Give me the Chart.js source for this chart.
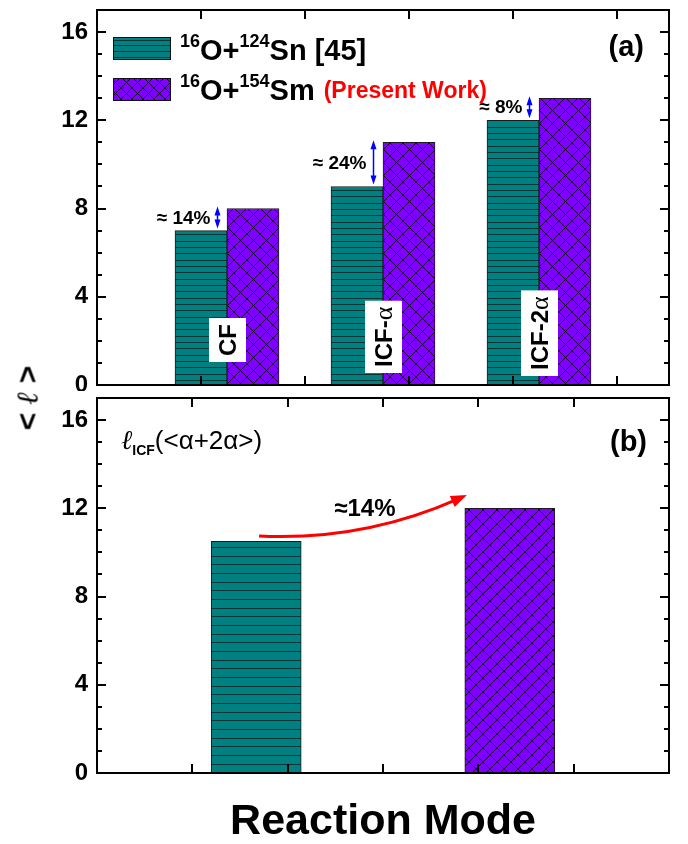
<!DOCTYPE html>
<html>
<head>
<meta charset="utf-8">
<script src="https://cdn.jsdelivr.net/npm/chart.js@4.4.1/dist/chart.umd.min.js"></script>
<style>
  html, body { margin:0; padding:0; background:#fff; }
  #wrap { position:relative; width:688px; height:844px; overflow:hidden; }
  #boxA { position:absolute; left:0; top:0; width:688px; height:391px; }
  #boxB { position:absolute; left:0; top:391px; width:688px; height:453px; }
  #ytitle { position:absolute; left:27px; top:398px; transform:translate(-50%,-50%) rotate(-90deg);
    font:bold 30px "Liberation Sans", Arial, sans-serif; white-space:nowrap; }
  #ytitle span { font-family:"DejaVu Serif", serif; font-style:italic; font-weight:bold; }
</style>
</head>
<body>
<div id="wrap">
  <div id="boxA"><canvas id="chartA"></canvas></div>
  <div id="boxB"><canvas id="chartB"></canvas></div>
  <div id="ytitle">&lt; <span>ℓ</span> &gt;</div>
</div>
<script>
// panel (a): <l> per reaction mode
const modes = ["CF", "ICF-", "ICF-2"];          // alpha is appended in a serif font
const modeX = [1.25, 2.75, 4.25];
const snX = [1, 2.5, 4];
const smX = [1.5, 3, 4.5];
const snL = [7, 9, 12];        // 16O+124Sn [45]
const smL = [8, 11, 13];       // 16O+154Sm (present work)
const diffText = ["≈ 14%", "≈ 24%", "≈ 8%"];

// panel (b): l_ICF(<a+2a>)
const icfX = [1.67, 4.33];
const icfL = [10.5, 12];
const icfDiff = "≈14%";

const yMajor = [0, 4, 8, 12, 16];

const FONT = '"Liberation Sans", Arial, Helvetica, sans-serif';
const SERIF = '"Liberation Serif", "Times New Roman", serif';
Chart.defaults.font.family = FONT;
Chart.defaults.color = "#000";

function stripes(tile, lines, bg, fg) {
  const c = document.createElement("canvas");
  c.width = 8; c.height = tile;
  const g = c.getContext("2d");
  g.fillStyle = bg; g.fillRect(0, 0, 8, tile);
  g.fillStyle = fg;
  for (let i = 0; i < lines; i++) g.fillRect(0, Math.round(i * tile / lines), 8, 1);
  return g.createPattern(c, "repeat");
}

function hatch(size, bg, fg) {
  const c = document.createElement("canvas");
  c.width = size; c.height = size;
  const g = c.getContext("2d");
  g.fillStyle = bg; g.fillRect(0, 0, size, size);
  g.strokeStyle = fg; g.lineWidth = 1;
  g.beginPath();
  g.moveTo(-1, -1); g.lineTo(size + 1, size + 1);
  g.moveTo(size + 1, -1); g.lineTo(-1, size + 1);
  g.stroke();
  return g.createPattern(c, "repeat");
}

const TEAL = "#008080", TEAL_LINE = "#0a3434";
const PURPLE = "#8000ff", PURPLE_LINE = "#1a0030";

// draw text pieces one after another (for super/subscripts)
function runs(ctx, x, y, parts) {
  parts.forEach(p => {
    ctx.font = p.f;
    ctx.fillStyle = p.c || "#000";
    ctx.fillText(p.t, x, y - (p.up || 0));
    x += ctx.measureText(p.t).width;
  });
  return x;
}

function head(ctx, x, y, dx, dy, len, half) {
  const n = Math.hypot(dx, dy); dx /= n; dy /= n;
  ctx.beginPath();
  ctx.moveTo(x, y);
  ctx.lineTo(x - dx * len - dy * half, y - dy * len + dx * half);
  ctx.lineTo(x - dx * len + dy * half, y - dy * len - dx * half);
  ctx.closePath();
  ctx.fill();
}

const framePlugin = {
  id: "frame",
  afterDraw(chart) {
    const { ctx, chartArea: a, scales: { x, y } } = chart;
    ctx.save();
    ctx.strokeStyle = "#000";
    ctx.lineWidth = 2;
    ctx.beginPath();
    for (let v = Math.floor(y.min) + 1; v < y.max; v++) {
      const py = Math.round(y.getPixelForValue(v));
      const len = yMajor.includes(v) ? 9 : 5;
      ctx.moveTo(a.left, py); ctx.lineTo(a.left + len, py);
      ctx.moveTo(a.right, py); ctx.lineTo(a.right - len, py);
    }
    for (let v = Math.floor(x.min) + 1; v < x.max; v++) {
      const px = Math.round(x.getPixelForValue(v));
      ctx.moveTo(px, a.top); ctx.lineTo(px, a.top + 9);
      ctx.moveTo(px, a.bottom); ctx.lineTo(px, a.bottom - 9);
    }
    ctx.stroke();
    ctx.strokeRect(a.left, a.top, a.right - a.left, a.bottom - a.top);
    ctx.restore();
  }
};

const annotA = {
  id: "annotA",
  afterDatasetsDraw(chart) {
    const { ctx, chartArea: a, scales: { x, y } } = chart;
    ctx.save();

    // blue difference arrows and percent labels
    ctx.strokeStyle = "#0000ff"; ctx.fillStyle = "#0000ff"; ctx.lineWidth = 1.5;
    modes.forEach((m, i) => {
      const ax = Math.round(x.getPixelForValue(snX[i] + 0.15)) + 0.5;
      const y1 = y.getPixelForValue(smL[i]) - 2, y2 = y.getPixelForValue(snL[i]) - 2;
      ctx.beginPath(); ctx.moveTo(ax, y1 + 6); ctx.lineTo(ax, y2 - 6); ctx.stroke();
      ctx.fillStyle = "#0000ff";
      head(ctx, ax, y1, 0, -1, 9, 3);
      head(ctx, ax, y2, 0, 1, 9, 3);
      ctx.fillStyle = "#000";
      ctx.font = "bold 19px " + FONT;
      ctx.textAlign = "right"; ctx.textBaseline = "middle";
      ctx.fillText(diffText[i], ax - 7, (y1 + y2) / 2 + 1);
    });

    // rotated mode labels in white boxes
    const lift = [23, 12, 9];
    ctx.textAlign = "left"; ctx.textBaseline = "alphabetic";
    modes.forEach((m, i) => {
      const parts = [{ t: m, f: "bold 24px " + FONT }];
      if (i > 0) parts.push({ t: "α", f: "26px " + SERIF });
      let w = 0;
      parts.forEach(p => { ctx.font = p.f; w += ctx.measureText(p.t).width; });
      const cx = x.getPixelForValue(modeX[i]);
      const bottom = a.bottom - lift[i];
      const h = w + 12;
      ctx.fillStyle = "#fff";
      ctx.fillRect(cx - 18, bottom - h, 37, h);
      ctx.save();
      ctx.translate(cx, bottom - 6);
      ctx.rotate(-Math.PI / 2);
      runs(ctx, 0, 9, parts);
      ctx.restore();
    });

    // legend
    const ds = chart.data.datasets;
    const sw = [[113, 37], [113, 78]];
    sw.forEach((p, i) => {
      ctx.fillStyle = ds[i].legendFill;
      ctx.fillRect(p[0], p[1], 57, 22);
      ctx.strokeStyle = "#111"; ctx.lineWidth = 1;
      ctx.strokeRect(p[0] + 0.5, p[1] + 0.5, 57, 22);
    });
    const main = "bold 29px " + FONT, sup = "bold 18px " + FONT;
    runs(ctx, 180, 60, [
      { t: "16", f: sup, up: 13 }, { t: "O+", f: main }, { t: "124", f: sup, up: 13 }, { t: "Sn [45]", f: main }
    ]);
    const ex = runs(ctx, 180, 100, [
      { t: "16", f: sup, up: 13 }, { t: "O+", f: main }, { t: "154", f: sup, up: 13 }, { t: "Sm", f: main }
    ]);
    runs(ctx, ex + 9, 98, [{ t: "(Present Work)", f: "bold 23px " + FONT, c: "#ff0000" }]);

    ctx.font = "bold 29px " + FONT;
    ctx.fillStyle = "#000";
    ctx.textAlign = "right";
    ctx.fillText("(a)", 644, 56);
    ctx.restore();
  }
};

const annotB = {
  id: "annotB",
  afterDatasetsDraw(chart) {
    const { ctx, chartArea: a, scales: { x, y } } = chart;
    ctx.save();
    ctx.textAlign = "left"; ctx.textBaseline = "alphabetic";
    runs(ctx, 121, a.top + 51, [
      { t: "ℓ", f: "italic 27px " + '"DejaVu Serif", serif' },
      { t: "ICF", f: "bold 14px " + FONT, up: -6 },
      { t: "(<α+2α>)", f: "26px " + FONT }
    ]);
    ctx.font = "bold 29px " + FONT;
    ctx.textAlign = "right";
    ctx.fillText("(b)", 647, a.top + 53);

    ctx.textAlign = "center"; ctx.textBaseline = "middle";
    ctx.font = "bold 24px " + FONT;
    ctx.fillText(icfDiff, x.getPixelForValue(2.81), y.getPixelForValue(12) + 1);

    // curved red arrow from the Sn bar towards the Sm bar
    const p0 = [x.getPixelForValue(1.70), y.getPixelForValue(10.74)];
    const c = [x.getPixelForValue(2.79), y.getPixelForValue(10.52)];
    const p2 = [x.getPixelForValue(3.88), y.getPixelForValue(12.6)];
    const dx = p2[0] - c[0], dy = p2[1] - c[1], n = Math.hypot(dx, dy);
    ctx.strokeStyle = "#ff0000"; ctx.fillStyle = "#ff0000"; ctx.lineWidth = 3;
    ctx.beginPath();
    ctx.moveTo(p0[0], p0[1]);
    ctx.quadraticCurveTo(c[0], c[1], p2[0] - dx / n * 10, p2[1] - dy / n * 10);
    ctx.stroke();
    head(ctx, p2[0], p2[1], dx, dy, 16, 6);
    ctx.restore();
  }
};

function yAxis() {
  return {
    min: 0, max: 17,
    afterFit: s => { s.width = 97; s.paddingTop = 0; s.paddingBottom = 0; },
    grid: { display: false, drawTicks: false },
    border: { display: false },
    ticks: {
      stepSize: 1, autoSkip: false, padding: 9,
      font: { size: 24, weight: "bold" },
      callback: v => yMajor.includes(v) ? v : ""
    }
  };
}

const common = {
  responsive: true, maintainAspectRatio: false, animation: false, events: [],
  plugins: { legend: { display: false }, tooltip: { enabled: false } }
};

const tealA = stripes(19, 3, TEAL, TEAL_LINE);
const purpleA = hatch(13, PURPLE, PURPLE_LINE);

new Chart(document.getElementById("chartA"), {
  type: "bar",
  data: {
    datasets: [
      { label: "16O+124Sn [45]", data: snX.map((v, i) => ({ x: v, y: snL[i] })),
        backgroundColor: tealA, legendFill: stripes(17, 3, TEAL, TEAL_LINE),
        borderColor: "#1c1c1c", borderWidth: 1, barThickness: 52, grouped: false },
      { label: "16O+154Sm (Present Work)", data: smX.map((v, i) => ({ x: v, y: smL[i] })),
        backgroundColor: purpleA, legendFill: hatch(11, PURPLE, PURPLE_LINE),
        borderColor: "#1c1c1c", borderWidth: 1, barThickness: 52, grouped: false }
    ]
  },
  options: {
    ...common,
    layout: { padding: { top: 10, bottom: 6, left: 0, right: 19 } },
    scales: {
      x: { type: "linear", min: 0, max: 5.5, offset: false, display: false },
      y: yAxis()
    }
  },
  plugins: [annotA, framePlugin]
});

new Chart(document.getElementById("chartB"), {
  type: "bar",
  data: {
    datasets: [
      { label: "16O+124Sn [45]", data: [{ x: icfX[0], y: icfL[0] }],
        backgroundColor: stripes(26, 3, TEAL, TEAL_LINE),
        borderColor: "#1c1c1c", borderWidth: 1, barThickness: 90, grouped: false },
      { label: "16O+154Sm", data: [{ x: icfX[1], y: icfL[1] }],
        backgroundColor: hatch(14, PURPLE, PURPLE_LINE),
        borderColor: "#1c1c1c", borderWidth: 1, barThickness: 90, grouped: false }
    ]
  },
  options: {
    ...common,
    layout: { padding: { top: 7, bottom: 0, left: 0, right: 19 } },
    scales: {
      x: {
        type: "linear", min: 0, max: 6, offset: false,
        afterFit: s => { s.height = 71; s.paddingLeft = 0; s.paddingRight = 0; },
        grid: { display: false, drawTicks: false },
        border: { display: false },
        ticks: { display: false },
        title: { display: true, text: "Reaction Mode", padding: 0,
                 font: { size: 43, weight: "bold", lineHeight: 1 } }
      },
      y: yAxis()
    }
  },
  plugins: [annotB, framePlugin]
});
</script>
</body>
</html>
